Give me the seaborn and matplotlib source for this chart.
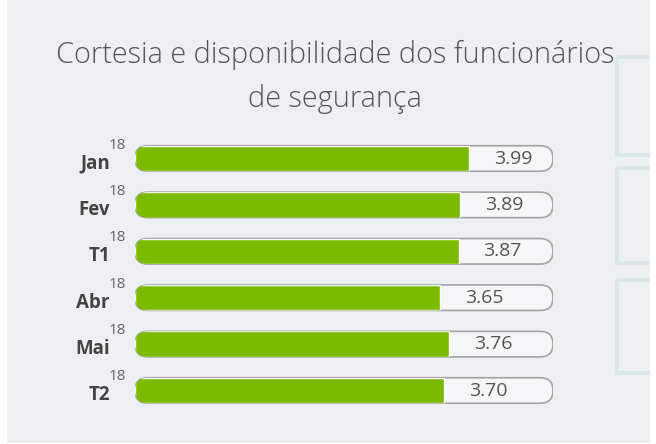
import matplotlib
matplotlib.use("Agg")
import matplotlib.pyplot as plt
import matplotlib.transforms as mtransforms
from matplotlib.patches import FancyBboxPatch, Rectangle
import seaborn as sns
import pandas as pd

# chart data
months = ["Jan", "Fev", "T1", "Abr", "Mai", "T2"]
year_tag = ["18", "18", "18", "18", "18", "18"]
scores = [3.99, 3.89, 3.87, 3.65, 3.76, 3.70]
scale_max = [5, 5, 5, 5, 5, 5]
title_lines = ["Cortesia e disponibilidade dos funcionários", "de segurança"]

green = "#7aba00"
track_fill = "#f5f6f7"
track_edge = "#a3a3a3"
panel = "#edf0f3"

sns.set_style("white")
plt.rcParams["font.family"] = ["Open Sans", "DejaVu Sans"]

df = pd.DataFrame({"month": months, "score": scores, "max": scale_max})

fig = plt.figure(figsize=(6.56, 4.44), dpi=100, facecolor="white")

# background panel (pixel coordinates)
bg = fig.add_axes([0, 0, 1, 1], zorder=-1)
bg.set_xlim(0, 656)
bg.set_ylim(444, 0)
bg.axis("off")
panel_rect = Rectangle((7, 0), 643, 443, facecolor=panel, edgecolor="none")
bg.add_patch(panel_rect)
for y0, h in [(57, 98), (168, 95), (280, 93)]:
    box = Rectangle((617, y0), 60, h, facecolor="none", edgecolor="#d9e7e8", linewidth=2.8)
    bg.add_patch(box)
    box.set_clip_path(panel_rect)

for line, yb in zip(title_lines, [63, 107]):
    bg.text(335, yb, line, ha="center", va="baseline", fontsize=20.8,
            color="#555555", fontweight="light")

# bars
ax = fig.add_axes([135 / 656, 1 - 413.7 / 444, 418 / 656, 278.4 / 444])
ax.set_facecolor("none")

sns.barplot(data=df, x="max", y="month", color=track_fill, width=0.55, ax=ax,
            saturation=1)
n_track = len(ax.patches)
sns.barplot(data=df, x="score", y="month", color=green, width=0.55, ax=ax,
            saturation=1)
ax.set_xlim(0, 5)
ax.set_ylim(5.5, -0.5)

fig.canvas.draw()
# aspect between x and y data units in pixels, for round pill ends
p0 = ax.transData.transform((0, 0))
p1 = ax.transData.transform((1, 1))
aspect = abs(p1[0] - p0[0]) / abs(p1[1] - p0[1])

tracks = ax.patches[:n_track]
fills = ax.patches[n_track:]
for rect, bar in zip(tracks, fills):
    x, y = rect.get_x(), rect.get_y()
    w, h = rect.get_width(), rect.get_height()
    r = (h / 2) / aspect
    pill = FancyBboxPatch((x, y), w, h,
                          boxstyle=f"round,pad=0,rounding_size={r}",
                          mutation_aspect=aspect,
                          facecolor=track_fill, edgecolor=track_edge,
                          linewidth=1.2, zorder=1)
    ax.add_patch(pill)
    rect.set_visible(False)
    bar.set_zorder(2)
    bar.set_clip_path(pill)

for i, v in enumerate(scores):
    ax.annotate(f"{v:.2f}", xy=(v, i), xytext=(25, 0), textcoords="offset pixels",
                ha="left", va="center", fontsize=14, color="#555555")
    ax.annotate(year_tag[i], xy=(0, i), xytext=(-18, 13.5), textcoords="offset pixels",
                ha="center", va="center", fontsize=11, color="#666666")

ax.set_xlabel("")
ax.set_ylabel("")
ax.set_xticks([])
ax.tick_params(axis="y", length=0, pad=18)
ax.set_yticks(range(len(months)))
ax.set_yticklabels(months, fontsize=13.5, fontweight="bold", color="#444444")
shift = mtransforms.ScaledTranslation(0, -2.5 / 100, fig.dpi_scale_trans)
for lbl in ax.get_yticklabels():
    lbl.set_transform(lbl.get_transform() + shift)
for s in ax.spines.values():
    s.set_visible(False)

fig.savefig("out.png", dpi=100)
